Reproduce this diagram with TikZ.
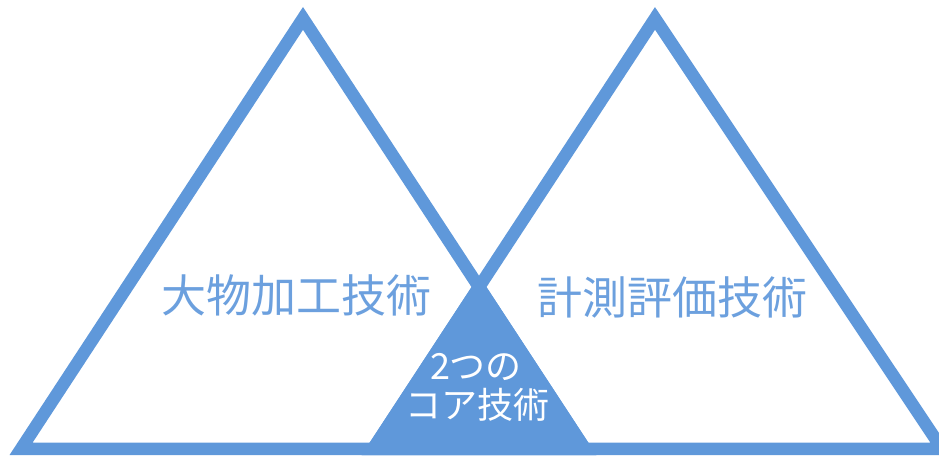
\documentclass[tikz,border=0pt]{standalone}
\usepackage{fontspec}
\newfontfamily\jp{Noto Sans CJK JP}
\definecolor{triblue}{RGB}{95,152,218}
\definecolor{textblue}{RGB}{108,160,222}
\begin{document}
\begin{tikzpicture}[x=1pt,y=-1pt,
  tri/.style={draw=triblue,line width=12.5pt,line join=miter},
  bigtext/.style={text=textblue,font=\jp\fontsize{45}{50}\selectfont,inner sep=0pt},
  coretext/.style={text=white,font=\jp\fontsize{36}{38}\selectfont,inner sep=0pt,align=center}]
\useasboundingbox (0,0) rectangle (939,459);
\clip (0,0) rectangle (939,459);
% overlap region
\coordinate (top) at (479,275.7);
\coordinate (bl) at (361.6,455);
\coordinate (br) at (596.4,455);
\fill[triblue] (top) -- (br) -- (bl) -- cycle;
% left triangle
\coordinate (la) at (303,18.4);
\coordinate (ll) at (21.1,448.75);
\coordinate (lr) at (584.9,448.75);
\draw[tri] (la) -- (lr) -- (ll) -- cycle;
% right triangle
\coordinate (ra) at (655,18.4);
\coordinate (rl) at (373.1,448.75);
\coordinate (rr) at (942,448.75);
\draw[tri] (ra) -- (rr) -- (rl) -- cycle;
% texts
\node[bigtext] (left) at (296,295) {大物加工技術};
\node[bigtext] (right) at (672,297) {計測評価技術};
\node[coretext] (core1) at (476,367) {2つの};
\node[coretext] (core2) at (477,405) {コア技術};
\end{tikzpicture}
\end{document}
